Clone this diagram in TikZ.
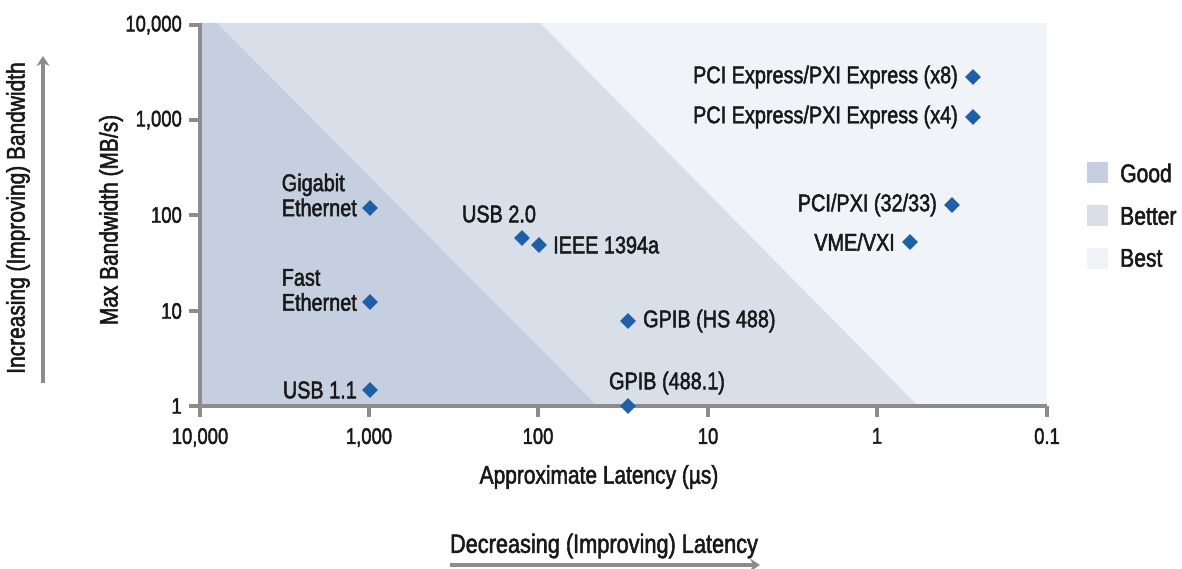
\documentclass[tikz,border=0pt]{standalone}
\usepackage{fontspec}
\setmainfont[FakeStretch=0.82,FakeBold=2]{Liberation Sans}
\usetikzlibrary{shapes.geometric,arrows.meta}
\definecolor{good}{RGB}{197,207,223}
\definecolor{better}{RGB}{217,223,233}
\definecolor{best}{RGB}{240,243,247}
\definecolor{axisgray}{RGB}{140,140,140}
\definecolor{ptblue}{RGB}{30,95,168}
\definecolor{txt}{RGB}{25,25,25}
\tikzset{
  pt/.style={diamond,fill=ptblue,inner sep=0pt,minimum width=16pt,minimum height=16pt},
  lbl/.style={font=\fontsize{24.2}{25}\selectfont,text=txt,inner sep=0pt},
  ticklbl/.style={font=\fontsize{22.5}{24}\selectfont,text=txt,inner sep=0pt},
  axlbl/.style={font=\fontsize{25.5}{27}\selectfont,text=txt,inner sep=0pt},
  leglbl/.style={font=\fontsize{25.7}{27}\selectfont,text=txt,inner sep=0pt,anchor=west},
  axisline/.style={draw=axisgray,line width=4.5pt},
  swatch/.style={minimum width=21pt,minimum height=21pt,inner sep=0pt},
  dirarrow/.style={draw=axisgray,line width=4pt,-{Stealth[length=10pt,width=13pt]}}
}
\begin{document}
\begin{tikzpicture}[x=1pt,y=-1pt]
\useasboundingbox (0,0) rectangle (1182,569);
% zones of the chart
\fill[best] (200,23) rectangle (1047,406);
\fill[better] (200,23) -- (540,23) -- (918,406) -- (200,406) -- cycle;
\fill[good] (200,23) -- (217,23) -- (597,406) -- (200,406) -- cycle;
% axes
\draw[axisline] (200,23) -- (200,406) -- (1047,406);
% y ticks
\foreach \y/\t in {25/{10,000},120/{1,000},215/100,311/10,406/1}{
  \draw[axisline] (189,\y) -- (200,\y);
  \node[ticklbl,anchor=east] at (182,\y) {\t};
}
% x ticks
\foreach \x/\t in {200/{10,000},369/{1,000},538/100,708/10,877/1,1047/0.1}{
  \draw[axisline] (\x,406) -- (\x,417);
  \node[ticklbl,anchor=north] at (\x,428) {\t};
}
% axis titles
\node[axlbl,rotate=90] (ytitle) at (111,220) {Max Bandwidth (MB/s)};
\node[axlbl] (xtitle) at (599,477) {Approximate Latency (µs)};
\node[axlbl,rotate=90] (ydir) at (18,218) {Increasing (Improving) Bandwidth};
\node[axlbl,font=\fontsize{26.5}{28}\selectfont] (xdir) at (604,546) {Decreasing (Improving) Latency};
\coordinate (ya) at (43,383);
\coordinate (yb) at (43,56);
\coordinate (xa) at (450,565);
\coordinate (xb) at (760,565);
\draw[dirarrow] (ya) -- (yb);
\draw[dirarrow] (xa) -- (xb);
% data points
\node[pt] (gige) at (370,208) {};
\node[pt] (fe) at (370,302) {};
\node[pt] (usb1) at (370,390) {};
\node[pt] (usb2) at (522,238) {};
\node[pt] (ieee) at (539,245) {};
\node[pt] (gpibhs) at (628,321) {};
\node[pt] (gpib) at (628,406) {};
\node[pt] (pcie8) at (973,77) {};
\node[pt] (pcie4) at (973,117) {};
\node[pt] (pci) at (952,205) {};
\node[pt] (vme) at (910,242) {};
% point labels
\node[lbl,align=left,anchor=east] at (357,195) {Gigabit\\Ethernet};
\node[lbl,align=left,anchor=east] at (357,290) {Fast\\Ethernet};
\node[lbl,anchor=east] at (357,390) {USB 1.1};
\node[lbl] at (499,214) {USB 2.0};
\node[lbl,anchor=west] at (553,245) {IEEE 1394a};
\node[lbl,anchor=west] at (643,321) {GPIB (HS 488)};
\node[lbl] at (667,383) {GPIB (488.1)};
\node[lbl,anchor=east] at (958,77) {PCI Express/PXI Express (x8)};
\node[lbl,anchor=east] at (958,117) {PCI Express/PXI Express (x4)};
\node[lbl,anchor=east] at (937,205) {PCI/PXI (32/33)};
\node[lbl,anchor=east] at (895,242) {VME/VXI};
% legend
\node[swatch,fill=good] (lg1) at (1097.5,173) {};
\node[swatch,fill=better] (lg2) at (1097.5,216) {};
\node[swatch,fill=best] (lg3) at (1097.5,258) {};
\node[leglbl] at (1120,173) {Good};
\node[leglbl] at (1120,216) {Better};
\node[leglbl] at (1120,258) {Best};
\end{tikzpicture}
\end{document}
